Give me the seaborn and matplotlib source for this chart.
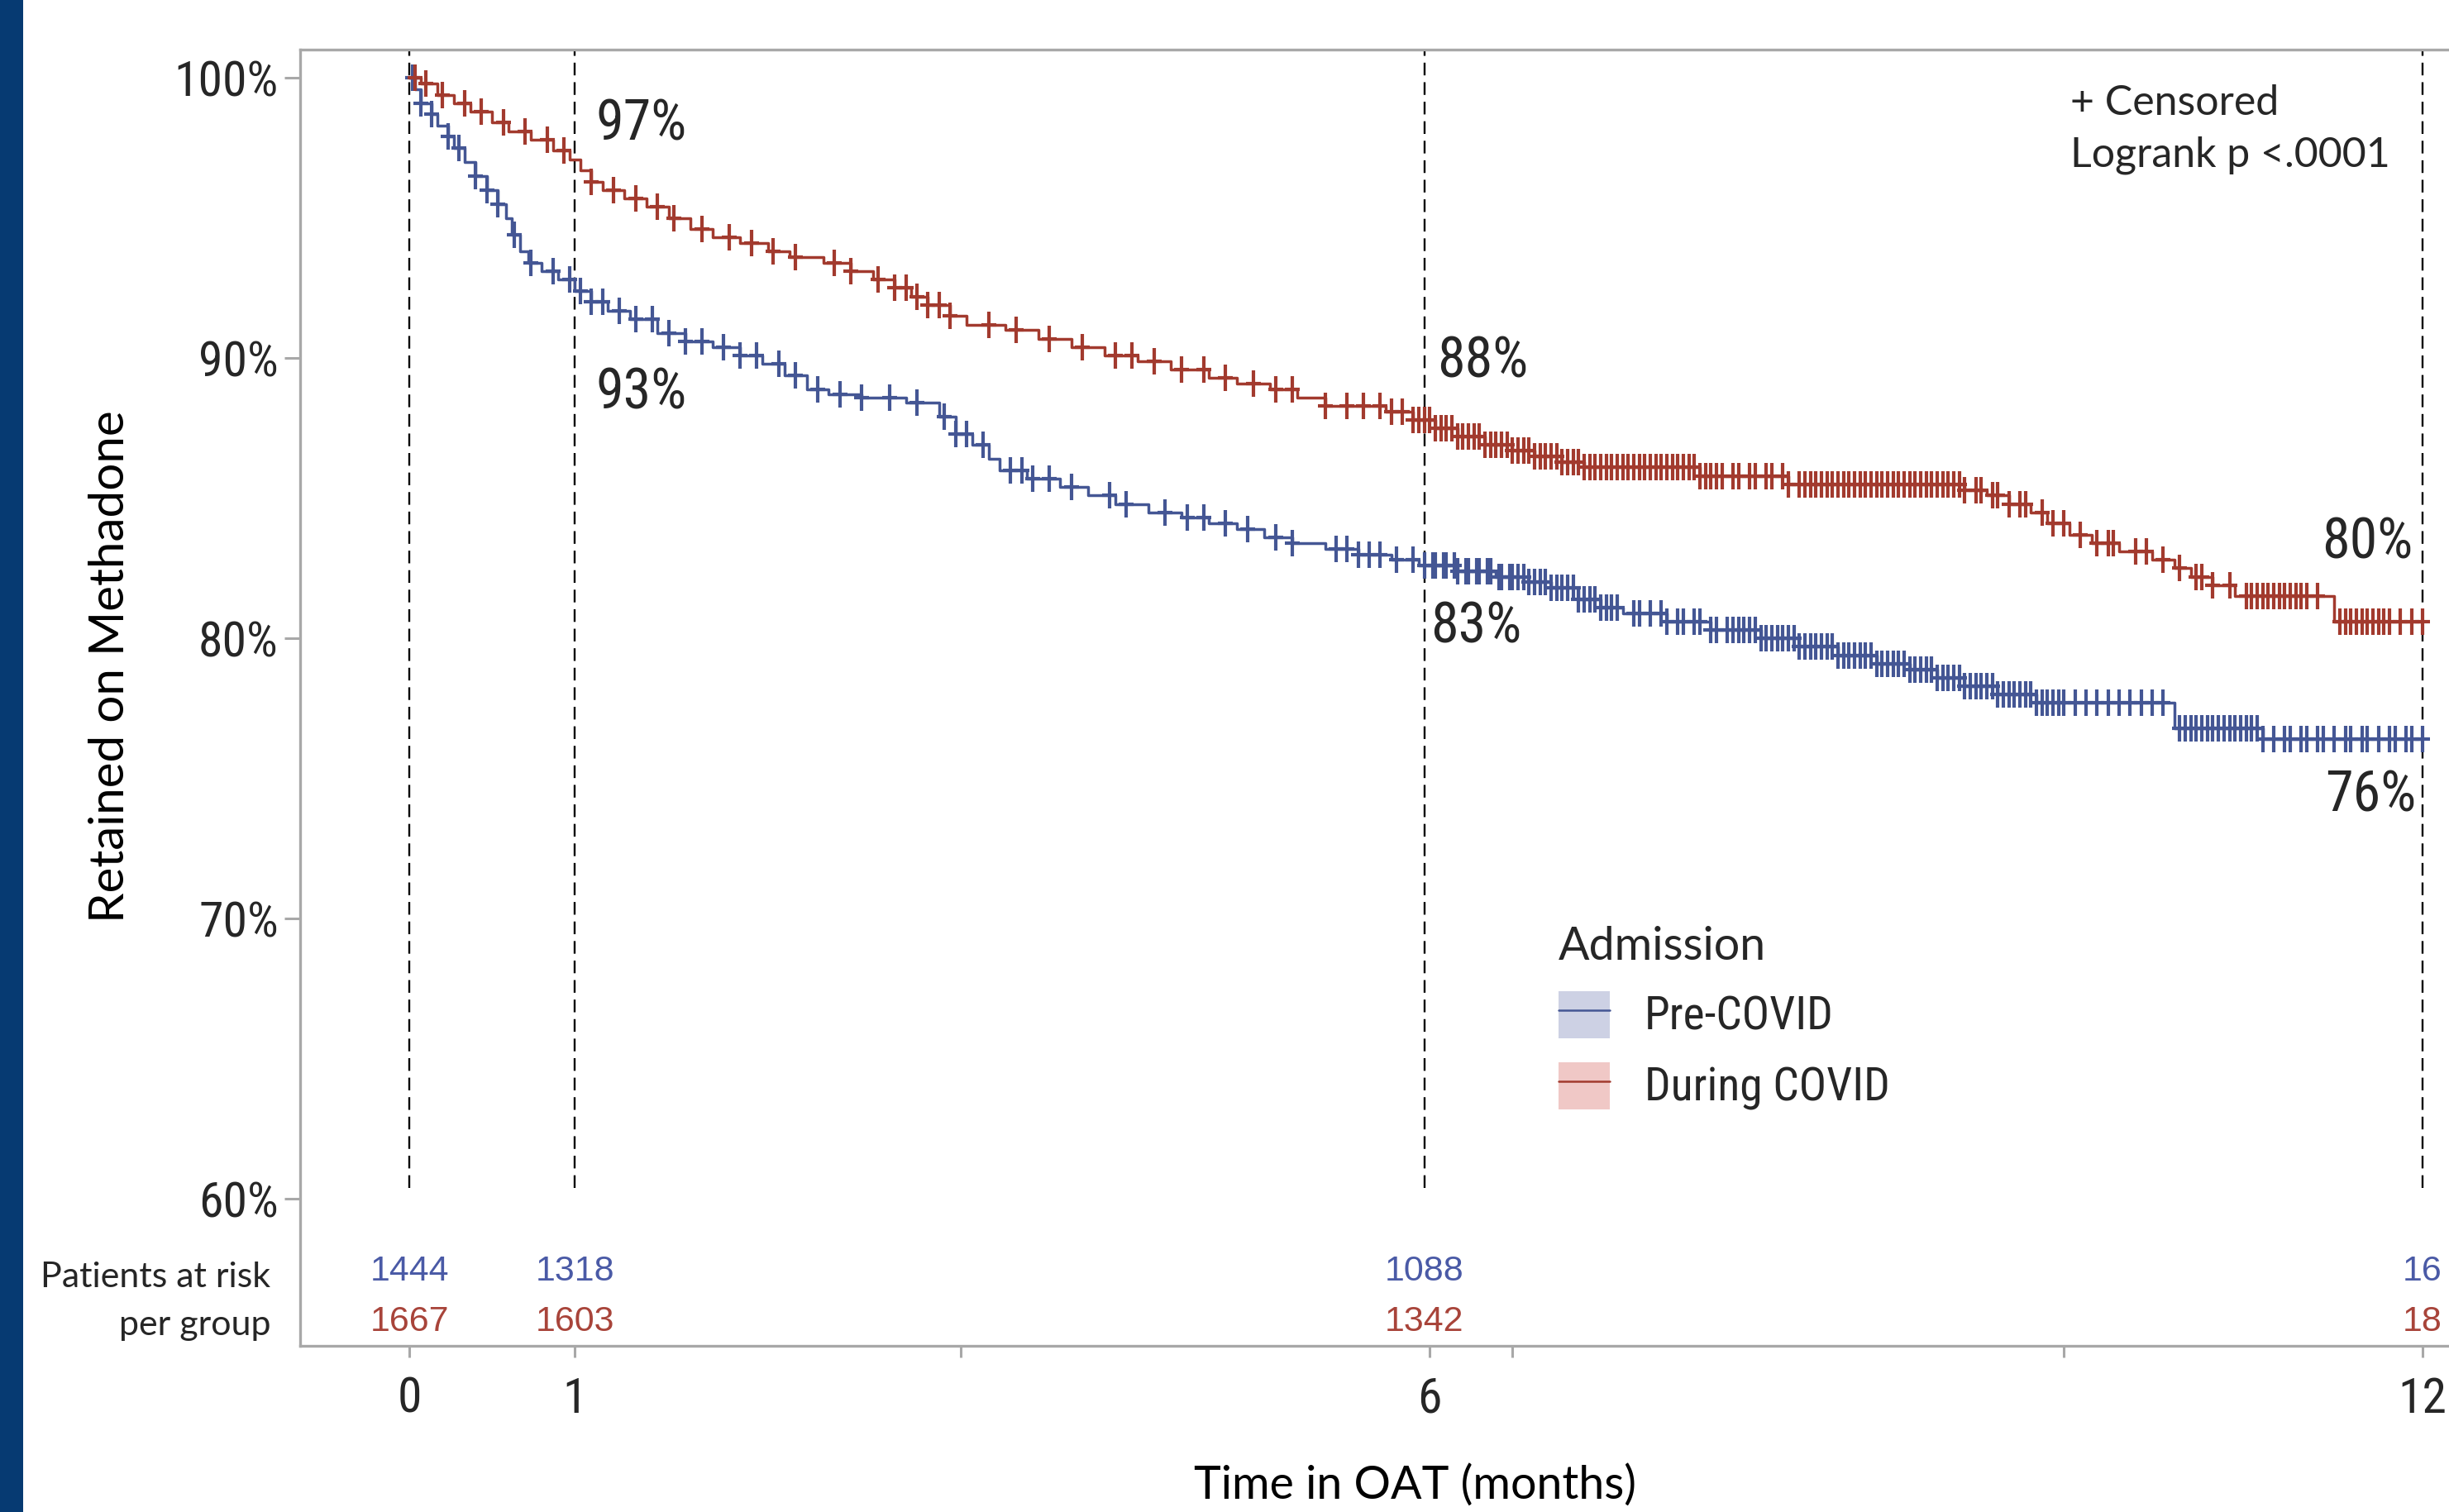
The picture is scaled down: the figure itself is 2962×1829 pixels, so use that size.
import numpy as np
import pandas as pd
import matplotlib
matplotlib.use("Agg")
import matplotlib.pyplot as plt
from matplotlib.patches import Rectangle, Patch
from matplotlib.lines import Line2D
from matplotlib.path import Path
from matplotlib.legend_handler import HandlerTuple
from matplotlib import font_manager
import seaborn as sns

sns.set_theme(style="white")
plt.rcParams["font.family"] = ["Lato", "DejaVu Sans"]

# condensed face for tick labels / percentages, if one is installed
installed = {f.name for f in font_manager.fontManager.ttflist}
NARROW, STRETCH, NARROW_SCALE = "Liberation Sans", "normal", 0.92
for name in ["Liberation Sans Narrow", "Roboto Condensed", "Open Sans Condensed",
             "Noto Sans Condensed", "DejaVu Sans Condensed"]:
    if name in installed:
        NARROW, NARROW_SCALE = name, 1.0
        break
else:
    for f in font_manager.fontManager.ttflist:
        if "condensed" in str(f.stretch).lower() and "Mono" not in f.name \
                and "Serif" not in f.name:
            NARROW, STRETCH, NARROW_SCALE = f.name, f.stretch, 1.0
            break

BLUE = "#445694"
RED = "#A23A2E"
BLUE_FILL = "#cdd1e4"
RED_FILL = "#f0c8c6"
NAVY = "#063a72"
SPINE = "#a8a8a8"

# ── DATA ──────────────────────────────────────────────────────
groups = ["Pre-COVID", "During COVID"]

pre_days = [0, 1, 2, 4, 5, 7, 8, 10, 12, 14, 16, 17.5, 18.5, 20, 21.5, 24, 27, 30,
            33, 36, 40, 45, 50, 55, 60, 64, 68, 72, 76, 82, 90, 96, 99, 102, 105,
            107, 112, 118, 123, 128, 134, 140, 145, 150, 155, 160, 166, 172, 178,
            183, 190, 197, 203, 207, 212, 216, 220, 228, 236, 245, 252, 259, 266,
            272, 277, 282, 288, 295, 320, 336, 365]
pre_surv = [100.0, 99.6, 99.1, 98.7, 98.3, 97.9, 97.5, 97.0, 96.5, 96.0, 95.5, 95.0,
            94.4, 93.8, 93.4, 93.1, 92.8, 92.4, 92.0, 91.7, 91.4, 90.9, 90.6, 90.4,
            90.1, 89.8, 89.4, 88.9, 88.7, 88.6, 88.4, 87.9, 87.3, 86.9, 86.4, 86.0,
            85.7, 85.4, 85.1, 84.8, 84.5, 84.3, 84.1, 83.9, 83.6, 83.4, 83.2, 83.0,
            82.8, 82.6, 82.4, 82.2, 82.0, 81.8, 81.4, 81.1, 80.9, 80.6, 80.3, 80.0,
            79.7, 79.4, 79.1, 78.9, 78.6, 78.3, 78.0, 77.7, 76.8, 76.4, 76.4]

dur_days = [0, 2, 5, 8, 11, 15, 18, 22, 26, 29, 31, 33, 35, 39, 43, 47, 51, 55, 60,
            65, 69, 75, 80, 84, 88, 91, 94, 98, 101, 108, 114, 120, 126, 132, 138,
            145, 150, 156, 161, 166, 177, 182, 186, 190, 195, 200, 204, 209, 213,
            234, 250, 282, 286, 290, 294, 297, 301, 305, 310, 316, 320, 323, 327,
            331, 349, 365]
dur_surv = [100.0, 99.8, 99.4, 99.1, 98.8, 98.4, 98.1, 97.8, 97.4, 97.1, 96.7, 96.3,
            96.0, 95.7, 95.4, 95.0, 94.6, 94.3, 94.1, 93.8, 93.6, 93.4, 93.1, 92.8,
            92.5, 92.2, 91.9, 91.5, 91.2, 91.0, 90.7, 90.4, 90.1, 89.9, 89.6, 89.3,
            89.1, 88.9, 88.6, 88.3, 88.1, 87.8, 87.5, 87.2, 86.9, 86.7, 86.5, 86.3,
            86.1, 85.8, 85.5, 85.3, 85.1, 84.8, 84.5, 84.1, 83.7, 83.4, 83.1, 82.8,
            82.5, 82.2, 81.9, 81.5, 80.6, 80.6]

pre_censored = [0.5, 2, 4, 7, 9, 12, 14, 16, 19, 22, 26, 29, 31, 33, 35, 38, 41, 44,
                47, 50, 53, 57, 60, 63, 67, 70, 74, 78, 82, 87, 92, 97, 99, 101, 104,
                109, 111, 113, 116, 120, 127, 130, 137, 141, 144, 148, 152, 157, 160,
                168, 170, 172, 174, 176, 179, 182, 184, 185.5, 186, 187.5, 188, 189.5,
                190, 191.5, 192, 193.5, 194, 195.5, 196, 197.5, 198, 199.5, 200, 201,
                202, 203, 204, 205, 206, 207, 208, 209, 210, 211, 212, 213, 214, 215,
                216, 217, 218, 219, 222, 223, 225, 227, 228, 230, 231, 233, 234, 236,
                237, 239, 240, 241, 242, 243, 244, 245, 246, 247, 248, 249, 250, 251,
                252, 253, 254, 255, 256, 257, 258, 259, 260, 261, 262, 263, 264, 265,
                266, 267, 268, 269, 270, 271, 272, 273, 274, 275, 276, 277, 278, 279,
                280, 281, 282, 283, 284, 285, 286, 287, 288, 289, 290, 291, 292, 293,
                294, 295, 296, 297, 298, 299, 300, 302, 304, 306, 308, 310, 312, 314,
                316, 318, 321, 322, 323, 324, 325, 326, 327, 328, 329, 330, 331, 332,
                333, 334, 335, 336, 338, 340, 341, 343, 344, 346, 347, 349, 351, 352,
                354, 355, 357, 359, 360, 362, 363, 365]
dur_censored = [1, 3, 6, 10, 13, 17, 21, 25, 28, 33, 37, 41, 45, 48, 53, 58, 62, 66,
                70, 77, 80, 85, 88, 90, 92, 94, 96, 98, 105, 110, 116, 122, 128, 131,
                135, 140, 144, 148, 153, 157, 160, 166, 170, 173, 176, 178, 180, 182,
                183, 184, 185, 186, 187, 188, 189, 190, 191, 192, 193, 194, 195, 196,
                197, 198, 199, 200, 201, 202, 203, 204, 205, 206, 207, 208, 209, 210,
                211, 212, 213, 214, 215, 216, 217, 218, 219, 220, 221, 222, 223, 224,
                225, 226, 227, 228, 229, 230, 231, 232, 233, 234, 235, 236, 237, 238,
                240, 241, 243, 244, 246, 247, 249, 250, 252, 253, 254, 255, 256, 257,
                258, 259, 260, 261, 262, 263, 264, 265, 266, 267, 268, 269, 270, 271,
                272, 273, 274, 275, 276, 277, 278, 279, 280, 281, 282, 284, 285, 287,
                288, 290, 292, 293, 296, 298, 300, 303, 306, 308, 309, 313, 315, 318,
                321, 324, 325, 327, 330, 333, 334, 335, 336, 337, 338, 339, 340, 341,
                342, 343, 344, 346, 350, 351, 352, 353, 354, 355, 356, 357, 358, 359,
                361, 363, 365]

landmark_days = [0, 30, 184, 365]
risk_pre = [1444, 1318, 1088, 16]
risk_dur = [1667, 1603, 1342, 18]
pct_pre = [93, 83, 76]      # at 1, 6, 12 months
pct_dur = [97, 88, 80]

y_ticks = [60, 70, 80, 90, 100]
x_ticks = [0, 30, 100, 185, 200, 300, 365]
x_tick_labels = ["0", "1", "", "6", "", "", "12"]

# ── FRAMES ────────────────────────────────────────────────────
curves = pd.concat([
    pd.DataFrame({"day": pre_days, "surv": pre_surv, "group": groups[0]}),
    pd.DataFrame({"day": dur_days, "surv": dur_surv, "group": groups[1]}),
], ignore_index=True)


def step_value(days, surv, t):
    idx = np.searchsorted(days, t, side="right") - 1
    return np.asarray(surv)[idx]


cens = pd.concat([
    pd.DataFrame({"day": pre_censored,
                  "surv": step_value(pre_days, pre_surv, pre_censored),
                  "group": groups[0]}),
    pd.DataFrame({"day": dur_censored,
                  "surv": step_value(dur_days, dur_surv, dur_censored),
                  "group": groups[1]}),
], ignore_index=True)

palette = {groups[0]: BLUE, groups[1]: RED}
nfont = dict(fontfamily=NARROW, fontstretch=STRETCH)

# ── FIGURE ────────────────────────────────────────────────────
fig = plt.figure(figsize=(29.62, 18.29), dpi=100)
fig.patch.set_facecolor("white")
fig.patches.append(Rectangle((0, 0), 28 / 2962, 1, transform=fig.transFigure,
                             facecolor=NAVY, edgecolor="none", zorder=0))

ax = fig.add_axes([0.1226, 0.110, 0.8774, 0.857])
ax.set_facecolor("white")

sns.lineplot(data=curves, x="day", y="surv", hue="group", palette=palette,
             drawstyle="steps-post", estimator=None, sort=False, lw=2.5,
             legend=False, ax=ax, zorder=3)

plus = Path([(-0.55, 0), (0.55, 0), (0, -1), (0, 1)],
            [Path.MOVETO, Path.LINETO, Path.MOVETO, Path.LINETO])
for g in groups:
    sub = cens[cens["group"] == g]
    ax.plot(sub["day"], sub["surv"], linestyle="none", marker=plus,
            markersize=23, markeredgewidth=3.0, color=palette[g], zorder=4)

# landmark dashed lines
ax.vlines(landmark_days, 60.4, 101.0, colors="black", lw=1.7,
          linestyles=(0, (6.5, 3.5)), zorder=2)

ax.set_xlim(-19.8, 369.8)
ax.set_ylim(54.76, 101.0)
ax.set_yticks(y_ticks)
ax.set_yticklabels([f"{v}%" for v in y_ticks], fontsize=43 * NARROW_SCALE, **nfont)
ax.set_xticks(x_ticks)
ax.set_xticklabels(x_tick_labels, fontsize=43 * NARROW_SCALE, **nfont)
ax.tick_params(axis="y", length=14, width=2.2, color=SPINE, pad=5, left=True)
ax.tick_params(axis="x", length=10, width=2.2, color=SPINE, pad=16, bottom=True)
ax.set_xlabel("")
ax.set_ylabel("")
for side in ["left", "top", "bottom"]:
    ax.spines[side].set_visible(True)
    ax.spines[side].set_color(SPINE)
    ax.spines[side].set_linewidth(2.4)
ax.spines["right"].set_visible(False)
ax.grid(False)

# axis titles
ax.text(-0.0885, 0.524, "Retained on Methadone", transform=ax.transAxes,
        rotation=90, ha="center", va="center", fontsize=42, color="black")
ax.text(0.5187, -0.1075, "Time in OAT (months)", transform=ax.transAxes,
        ha="center", va="center", fontsize=40, color="black")

# landmark percentages
psize = 49 * NARROW_SCALE
ax.text(33.7, 98.33, f"{pct_dur[0]}%", ha="left", va="center", fontsize=psize, **nfont)
ax.text(33.7, 88.74, f"{pct_pre[0]}%", ha="left", va="center", fontsize=psize, **nfont)
ax.text(186.3, 89.86, f"{pct_dur[1]}%", ha="left", va="center", fontsize=psize, **nfont)
ax.text(185.2, 80.4, f"{pct_pre[1]}%", ha="left", va="center", fontsize=psize, **nfont)
ax.text(363.2, 83.4, f"{pct_dur[2]}%", ha="right", va="center", fontsize=psize, **nfont)
ax.text(363.8, 74.4, f"{pct_pre[2]}%", ha="right", va="center", fontsize=psize, **nfont)

# censor / logrank note
ax.text(301.2, 99.1, "+ Censored", ha="left", va="center", fontsize=36)
ax.text(301.2, 97.25, "Logrank p <.0001", ha="left", va="center", fontsize=36)

# patients at risk
for d, n_pre, n_dur in zip(landmark_days, risk_pre, risk_dur):
    ax.text(d, 57.4, str(n_pre), ha="center", va="center", color="#4a5aa6",
            fontfamily="Liberation Sans", fontsize=31)
    ax.text(d, 55.6, str(n_dur), ha="center", va="center", color="#a8443a",
            fontfamily="Liberation Sans", fontsize=31)
ax.text(-25.2, 57.2, "Patients at risk", ha="right", va="center", fontsize=31,
        clip_on=False)
ax.text(-25.2, 55.5, "per group", ha="right", va="center", fontsize=31,
        clip_on=False)

# legend
handles = [
    (Patch(facecolor=BLUE_FILL, edgecolor="none"), Line2D([], [], color=BLUE, lw=1.8)),
    (Patch(facecolor=RED_FILL, edgecolor="none"), Line2D([], [], color=RED, lw=1.8)),
]
leg = ax.legend(handles, groups, handler_map={tuple: HandlerTuple(ndivide=1, pad=0)},
                title="Admission", loc="upper left", bbox_to_anchor=(0.5856, 0.324),
                frameon=False, borderpad=0, borderaxespad=0,
                handlelength=1.12, handleheight=1.2, handletextpad=0.75,
                labelspacing=0.5, alignment="left",
                prop={"family": NARROW, "stretch": STRETCH, "size": 40 * NARROW_SCALE},
                title_fontproperties={"family": "Lato", "size": 40})

plt.savefig("out.png", dpi=100, facecolor="white")
plt.close()
